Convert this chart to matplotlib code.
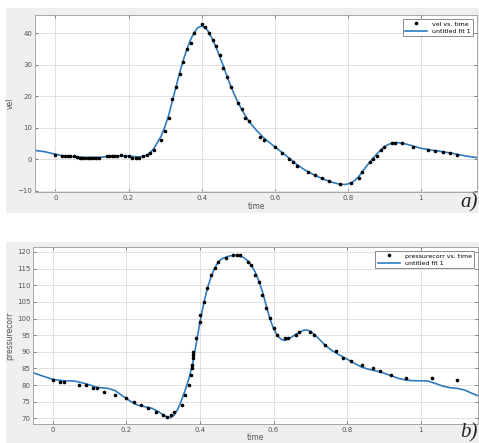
import matplotlib
matplotlib.use("Agg")
import matplotlib.pyplot as plt
from matplotlib.patches import Rectangle

# ---- panel a) data ----
vel_t = [0.0, 0.018, 0.026, 0.033, 0.04, 0.05, 0.06, 0.067, 0.074, 0.081, 0.088, 0.095, 0.102, 0.11, 0.12,
         0.14, 0.147, 0.154, 0.161, 0.168, 0.18, 0.19, 0.2, 0.21, 0.22, 0.23, 0.24, 0.25, 0.26, 0.27,
         0.29, 0.30, 0.31, 0.32, 0.33, 0.34, 0.35, 0.36, 0.37, 0.38, 0.40, 0.41, 0.42, 0.43, 0.44,
         0.45, 0.46, 0.47, 0.48, 0.50, 0.51, 0.52, 0.53, 0.56, 0.57, 0.60, 0.62, 0.64, 0.65, 0.66,
         0.69, 0.71, 0.73, 0.75, 0.78, 0.81, 0.83, 0.84, 0.86, 0.87, 0.88, 0.89, 0.90, 0.92, 0.93,
         0.95, 0.98, 1.02, 1.04, 1.06, 1.08, 1.10]
vel_v = [1.4, 1.0, 1.0, 1.0, 0.9, 1.0, 0.6, 0.5, 0.5, 0.5, 0.5, 0.5, 0.5, 0.5, 0.5,
         1.0, 1.0, 1.0, 1.0, 1.0, 1.2, 1.0, 1.0, 0.5, 0.4, 0.4, 1.0, 1.2, 2.0, 3.0,
         6.0, 9.0, 13.0, 19.0, 23.0, 27.0, 31.0, 35.0, 37.0, 40.0, 43.0, 42.0, 40.0, 38.0, 36.0,
         33.0, 29.0, 26.0, 23.0, 18.0, 16.0, 13.0, 12.0, 7.0, 6.0, 4.0, 2.0, 0.0, -1.0, -2.0,
         -4.0, -5.0, -6.0, -7.0, -8.0, -7.5, -6.0, -4.0, -1.0, 0.0, 1.0, 3.0, 4.0, 5.0, 5.1,
         5.0, 4.0, 3.0, 2.5, 2.2, 2.0, 1.5]

vel_fit_t = [-0.056, -0.03, 0.0, 0.02, 0.05, 0.08, 0.12, 0.15, 0.18, 0.21, 0.23, 0.25, 0.26, 0.27,
             0.28, 0.29, 0.30, 0.31, 0.32, 0.33, 0.34, 0.35, 0.36, 0.37, 0.38, 0.39, 0.40, 0.41,
             0.42, 0.43, 0.44, 0.45, 0.46, 0.47, 0.48, 0.49, 0.50, 0.51, 0.52, 0.53, 0.55, 0.57,
             0.60, 0.62, 0.64, 0.66, 0.68, 0.70, 0.72, 0.74, 0.76, 0.78, 0.795, 0.81, 0.82, 0.83,
             0.84, 0.85, 0.86, 0.87, 0.88, 0.89, 0.90, 0.91, 0.92, 0.935, 0.95, 0.97, 1.0, 1.03,
             1.06, 1.09, 1.12, 1.154]
vel_fit_v = [2.8, 2.4, 1.6, 1.1, 0.8, 0.6, 0.6, 0.9, 1.1, 0.9, 0.7, 1.3, 2.2, 3.5,
             5.5, 7.5, 10.5, 14.0, 18.5, 23.0, 27.5, 31.5, 35.0, 38.0, 40.3, 41.8, 42.3, 41.8,
             40.3, 38.0, 35.5, 32.5, 29.5, 26.2, 23.2, 20.5, 18.0, 15.8, 13.8, 12.0, 9.2, 6.8,
             4.0, 2.2, 0.3, -1.6, -3.2, -4.5, -5.6, -6.6, -7.4, -8.0, -8.0, -7.5, -6.7, -5.5,
             -4.0, -2.4, -1.0, 0.4, 1.7, 2.9, 3.9, 4.6, 5.1, 5.3, 5.1, 4.5, 3.5, 2.9,
             2.4, 1.8, 1.1, 0.5]

# ---- panel b) data ----
pr_t = [0.0, 0.02, 0.03, 0.07, 0.09, 0.11, 0.12, 0.14, 0.17, 0.20, 0.22, 0.24, 0.26, 0.28, 0.30,
        0.31, 0.32, 0.33, 0.35, 0.36, 0.37, 0.375, 0.378, 0.379, 0.38, 0.381, 0.382, 0.39, 0.40,
        0.40, 0.41, 0.42, 0.43, 0.44, 0.45, 0.47, 0.49, 0.50, 0.51, 0.53, 0.54, 0.55, 0.56, 0.57,
        0.58, 0.59, 0.60, 0.61, 0.63, 0.64, 0.66, 0.67, 0.70, 0.71, 0.74, 0.77, 0.79, 0.81, 0.84,
        0.87, 0.89, 0.92, 0.96, 1.03, 1.10]
pr_v = [81.6, 81.0, 81.0, 80.0, 80.0, 79.1, 79.1, 78.0, 77.0, 76.0, 75.0, 74.0, 73.0, 72.0, 71.0,
        70.5, 71.0, 72.0, 74.0, 77.0, 80.0, 83.0, 85.0, 86.0, 88.0, 89.0, 90.0, 94.1, 99.1,
        101.1, 105.1, 109.2, 113.2, 115.1, 117.1, 118.1, 119.1, 119.1, 119.1, 117.1, 116.1, 113.1, 111.1, 107.1,
        103.1, 100.1, 97.1, 95.1, 94.1, 94.1, 95.1, 96.1, 96.1, 95.1, 92.1, 90.1, 88.1, 87.1, 86.1,
        85.1, 84.1, 83.1, 82.1, 82.1, 81.6]

pr_fit_t = [-0.054, -0.03, 0.0, 0.03, 0.06, 0.09, 0.12, 0.15, 0.17, 0.19, 0.21, 0.23, 0.25, 0.27,
            0.29, 0.30, 0.31, 0.32, 0.33, 0.34, 0.35, 0.36, 0.37, 0.38, 0.39, 0.40, 0.41, 0.42,
            0.43, 0.44, 0.45, 0.46, 0.48, 0.50, 0.52, 0.53, 0.54, 0.55, 0.56, 0.57, 0.58, 0.59,
            0.60, 0.61, 0.62, 0.63, 0.64, 0.66, 0.68, 0.69, 0.70, 0.72, 0.74, 0.76, 0.78, 0.80,
            0.82, 0.84, 0.86, 0.88, 0.90, 0.92, 0.94, 0.96, 0.98, 1.0, 1.02, 1.04, 1.06, 1.08,
            1.10, 1.12, 1.14, 1.156]
pr_fit_v = [83.7, 82.8, 81.7, 81.3, 81.2, 80.4, 79.3, 79.0, 78.3, 76.7, 75.2, 74.0, 73.5, 73.0,
            71.8, 71.0, 70.4, 70.2, 71.0, 72.8, 75.5, 78.5, 82.0, 86.5, 92.5, 99.0, 104.5, 109.0,
            112.5, 115.2, 117.0, 118.0, 118.8, 119.0, 118.3, 117.3, 116.0, 114.0, 111.3, 108.0, 104.0, 100.0,
            97.0, 95.0, 93.8, 93.4, 93.8, 95.2, 96.4, 96.6, 96.2, 94.3, 92.0, 90.3, 89.0, 87.8,
            86.5, 85.4, 84.7, 84.2, 83.6, 82.8, 82.0, 81.5, 81.3, 81.3, 81.2, 80.5, 79.7, 79.2,
            79.0, 78.5, 77.5, 76.8]

W, H = 479, 443
fig = plt.figure(figsize=(W / 100, H / 100), dpi=100)
fig.patch.set_facecolor("white")

def fr(x0, y0, x1, y1):
    return [x0 / W, 1 - y1 / H, (x1 - x0) / W, (y1 - y0) / H]

# gray panel backgrounds (behind the axes)
fig.patches.append(Rectangle((6 / W, 1 - 213 / H), 1, (213 - 8) / H, transform=fig.transFigure,
                             facecolor="#efefef", edgecolor="none", zorder=-10))
fig.patches.append(Rectangle((6 / W, 0), 1, (443 - 242) / H, transform=fig.transFigure,
                             facecolor="#efefef", edgecolor="none", zorder=-10))

blue = "#2f7bbf"
tick_col = "#555555"

def style(ax):
    ax.set_facecolor("white")
    ax.grid(True, color="#dcdcdc", linewidth=0.6)
    ax.set_axisbelow(True)
    for s in ax.spines.values():
        s.set_color("#9a9a9a")
        s.set_linewidth(0.6)
    ax.tick_params(labelsize=5, colors=tick_col, length=2, width=0.5, direction="in",
                   top=True, right=True, pad=2)
    ax.set_xticks([0, 0.2, 0.4, 0.6, 0.8, 1.0])
    ax.set_xticklabels(["0", "0.2", "0.4", "0.6", "0.8", "1"])

# panel a
ax1 = fig.add_axes(fr(35, 15, 477, 192))
style(ax1)
ax1.plot(vel_t, vel_v, "o", color="black", markersize=1.6, label="vel vs. time", zorder=3)
ax1.plot(vel_fit_t, vel_fit_v, "-", color=blue, linewidth=1.2, label="untitled fit 1", zorder=2)
ax1.set_xlim(-0.056, 1.154)
ax1.set_ylim(-10.4, 45.8)
ax1.set_yticks([-10, 0, 10, 20, 30, 40])
ax1.set_xlabel("time", fontsize=5.5, color=tick_col, labelpad=1)
ax1.set_ylabel("vel", fontsize=5.5, color=tick_col, labelpad=2)
leg = ax1.legend(loc="upper right", fontsize=4.5, frameon=True, fancybox=False,
                 borderpad=0.4, handlelength=3.5, labelspacing=0.3, borderaxespad=0.6)
leg.get_frame().set_edgecolor("#555555")
leg.get_frame().set_linewidth(0.6)

# panel b
ax2 = fig.add_axes(fr(33, 247, 478, 424))
style(ax2)
ax2.plot(pr_t, pr_v, "o", color="black", markersize=1.6, label="pressurecorr vs. time", zorder=3)
ax2.plot(pr_fit_t, pr_fit_v, "-", color=blue, linewidth=1.2, label="untitled fit 1", zorder=2)
ax2.set_xlim(-0.054, 1.156)
ax2.set_ylim(68.3, 121.5)
ax2.set_yticks([70, 75, 80, 85, 90, 95, 100, 105, 110, 115, 120])
ax2.set_xlabel("time", fontsize=5.5, color=tick_col, labelpad=0.5)
ax2.set_ylabel("pressurecorr", fontsize=5.5, color=tick_col, labelpad=2)
leg2 = ax2.legend(loc="upper right", fontsize=4.5, frameon=True, fancybox=False,
                  borderpad=0.4, handlelength=3.5, labelspacing=0.3, borderaxespad=0.6)
leg2.get_frame().set_edgecolor("#555555")
leg2.get_frame().set_linewidth(0.6)

# panel tags
fig.text(478 / W, 1 - 212 / H, "a)", fontsize=15, style="italic", family="Liberation Serif",
         ha="right", va="bottom", color="#222222")
fig.text(478 / W, 1 - 442 / H, "b)", fontsize=15, style="italic", family="Liberation Serif",
         ha="right", va="bottom", color="#222222")

fig.savefig("out.png", dpi=100)
